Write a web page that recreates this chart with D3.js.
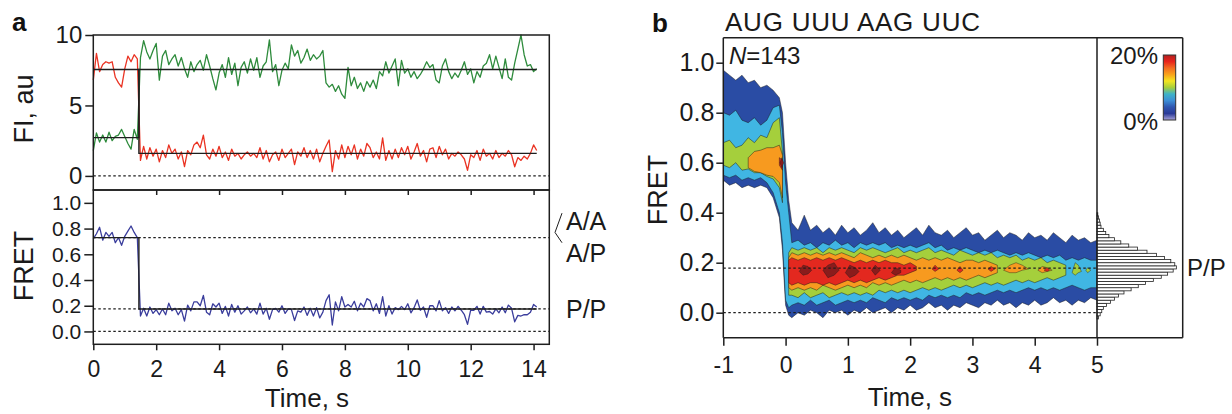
<!DOCTYPE html>
<html><head><meta charset="utf-8">
<script src="https://cdn.jsdelivr.net/npm/d3@7"></script>
<style>
html,body{margin:0;padding:0;background:#fff;}
svg{display:block;font-family:"Liberation Sans",Arial,Helvetica,sans-serif;}
</style></head><body>
<svg id="c" width="1232" height="414"></svg>
<script>
// ---------------- DATA ----------------
// panel a: single-molecule traces, sampled every 0.1 s from t = 0
const traceStart = 0, traceStep = 0.1;
const greenFI = [1.8,3.05,2.4,2.9,2.4,3.1,2.5,2.8,2.9,3.3,2.8,2.3,1.9,3.3,2.6,
8.4,9.6,8.8,8.3,8.9,9.4,6.8,8.5,8.9,7.9,
8.3,8.6,7.8,8.4,7.6,7.0,8.1,7.4,7.9,8.2,
7.5,8.6,7.8,6.9,6.1,7.3,7.9,7.0,8.4,7.2,
8.0,6.4,7.7,8.1,7.3,8.3,7.5,8.4,7.0,7.8,
8.1,9.65,7.4,7.9,6.4,7.5,8.0,7.6,9.3,8.5,
8.9,8.0,8.4,9.0,8.2,8.6,8.3,8.5,8.9,6.6,
6.3,6.5,6.0,6.4,5.8,5.5,7.7,6.4,7.0,6.2,
6.6,6.0,6.7,6.3,6.8,6.2,7.4,7.1,8.1,7.3,
7.8,8.3,6.4,8.2,7.3,7.6,7.0,7.4,6.9,7.2,
7.6,8.1,7.7,7.9,6.8,6.6,7.8,8.3,7.4,6.9,
7.3,7.0,7.5,8.1,7.2,7.6,6.6,7.4,7.0,7.8,
8.0,8.6,7.6,8.5,7.7,6.9,8.3,7.0,6.8,8.0,
9.0,10.0,8.6,7.8,7.9,7.4,7.6];
const redFI = [6.8,8.7,7.4,7.9,8.1,8.0,8.1,7.0,6.6,6.3,7.6,8.5,8.1,8.6,8.3,
1.1,2.1,1.2,2.0,1.4,1.9,1.0,1.8,1.3,2.2,
1.6,1.9,1.2,1.7,0.66,1.8,1.5,2.2,2.4,2.0,
2.9,1.5,1.2,1.9,1.4,2.1,1.3,1.7,1.1,1.9,
1.4,1.6,1.2,1.5,1.7,1.4,1.6,1.3,2.0,1.2,
1.8,1.0,1.5,1.7,1.1,1.9,1.3,1.6,1.9,0.8,
1.7,1.4,2.0,1.3,1.8,1.2,1.9,1.0,1.6,2.1,
2.55,0.3,1.8,1.2,2.2,1.3,2.1,1.5,2.2,1.2,
1.9,1.4,2.3,2.0,1.3,1.7,1.2,2.7,1.1,1.8,
1.2,1.9,1.3,2.0,1.5,2.1,1.2,1.7,2.3,1.4,
1.8,1.0,1.9,2.0,1.3,2.1,1.5,1.9,1.2,1.6,
1.4,1.7,1.5,1.2,0.4,1.5,1.3,1.8,1.1,1.9,
1.4,1.6,1.2,1.8,1.3,1.6,1.4,1.8,1.5,0.65,
1.3,1.1,1.4,1.2,1.6,2.2,1.8];
const fretTrace = [0.72,0.76,0.81,0.71,0.77,0.74,0.77,0.69,0.73,0.67,0.74,0.78,0.82,0.77,0.73,
0.12,0.18,0.12,0.19,0.14,0.17,0.13,0.175,0.13,0.22,
0.16,0.18,0.13,0.17,0.08,0.205,0.16,0.23,0.23,0.20,
0.28,0.15,0.13,0.215,0.19,0.22,0.14,0.195,0.12,0.21,
0.15,0.20,0.135,0.16,0.19,0.145,0.175,0.135,0.22,0.135,
0.18,0.095,0.17,0.18,0.15,0.20,0.14,0.175,0.17,0.085,
0.16,0.15,0.19,0.125,0.18,0.12,0.185,0.105,0.15,0.24,
0.285,0.05,0.23,0.16,0.27,0.19,0.21,0.19,0.235,0.16,
0.22,0.19,0.255,0.24,0.16,0.215,0.14,0.27,0.12,0.20,
0.135,0.185,0.17,0.195,0.17,0.215,0.145,0.185,0.245,0.165,
0.19,0.11,0.20,0.20,0.16,0.24,0.16,0.185,0.14,0.19,
0.16,0.195,0.165,0.13,0.055,0.165,0.165,0.195,0.135,0.195,
0.15,0.155,0.135,0.175,0.145,0.19,0.145,0.205,0.18,0.075,
0.125,0.12,0.13,0.13,0.15,0.21,0.19];
// idealized (HMM) step fits
const idealTime  = [0, 1.45, 1.45, 14.1];
const redIdeal   = [7.55, 7.55, 1.6, 1.6];
const greenIdeal = [2.72, 2.72, 7.55, 7.55];
const fretIdeal  = [0.73, 0.73, 0.175, 0.175];
const fiGuides   = [0];
const fretGuides = [0.73, 0.175, 0];
const fiTicks    = [0, 5, 10];
const fretTicksA = [0, 0.2, 0.4, 0.6, 0.8, 1.0];
const timeTicksA = [0, 2, 4, 6, 8, 10, 12, 14];
const stateLabels = [{text:"A/A", f:0.86}, {text:"A/P", f:0.61}, {text:"P/P", f:0.175}];

// panel b: post-synchronized contour map, band edges (FRET) per level
const contourT = [-1,-0.9,-0.8,-0.7,-0.6,-0.5,-0.4,-0.3,-0.2,-0.1,-0.05,0,0.05,
0.1,0.2,0.3,0.4,0.5,0.6,0.7,0.8,0.9,1.0,1.1,1.2,1.3,1.4,1.5,1.6,1.7,1.8,1.9,2.0,
2.1,2.2,2.3,2.4,2.5,2.6,2.7,2.8,2.9,3.0,3.1,3.2,3.3,3.4,3.5,3.6,3.7,3.8,3.9,4.0,
4.1,4.2,4.3,4.4,4.5,4.6,4.7,4.8,4.9,5.0];
const N = null;
const level1Hi = [0.97,0.95,0.93,0.95,0.92,0.93,0.90,0.91,0.89,0.86,0.80,0.60,0.45,
0.36,0.33,0.39,0.33,0.35,0.32,0.34,0.31,0.35,0.32,0.34,0.31,0.33,0.36,0.32,0.34,0.31,0.33,0.30,0.32,
0.34,0.31,0.35,0.32,0.31,0.33,0.30,0.32,0.34,0.31,0.32,0.29,0.31,0.33,0.30,0.32,0.31,0.29,0.32,0.30,
0.31,0.29,0.32,0.30,0.28,0.31,0.29,0.30,0.28,0.29];
const level1Lo = [0.53,0.51,0.52,0.50,0.51,0.50,0.51,0.50,0.46,0.38,0.25,0.03,-0.01,
-0.02,0.00,-0.01,0.01,0.00,-0.02,0.01,0.00,0.01,-0.01,0.01,0.00,0.02,0.00,0.01,0.02,0.00,0.02,0.01,0.03,
0.01,0.02,0.04,0.02,0.03,0.01,0.03,0.02,0.04,0.03,0.02,0.04,0.03,0.05,0.03,0.04,0.02,0.04,0.03,0.05,
0.03,0.04,0.06,0.04,0.05,0.03,0.05,0.04,0.06,0.05];
const level2Hi = [0.80,0.79,0.81,0.77,0.76,0.78,0.75,0.77,0.82,0.83,0.72,0.52,0.40,
0.28,0.29,0.27,0.28,0.26,0.28,0.27,0.29,0.27,0.28,0.26,0.28,0.27,0.28,0.27,0.28,0.26,0.27,0.26,0.27,
0.26,0.27,0.28,0.26,0.27,0.25,0.26,0.25,0.26,0.25,0.24,0.25,0.24,0.25,0.24,0.23,0.24,0.23,0.24,0.23,
0.22,0.23,0.22,0.23,0.21,0.22,0.21,0.22,0.21,0.21];
const level2Lo = [0.55,0.54,0.55,0.53,0.54,0.53,0.54,0.52,0.48,0.40,0.28,0.05,0.02,
0.03,0.04,0.03,0.05,0.03,0.04,0.05,0.03,0.04,0.05,0.04,0.05,0.04,0.06,0.05,0.04,0.06,0.05,0.06,0.05,
0.06,0.05,0.07,0.06,0.07,0.06,0.07,0.06,0.08,0.07,0.08,0.07,0.08,0.09,0.08,0.09,0.08,0.09,0.10,0.09,
0.10,0.09,0.10,0.09,0.10,0.11,0.10,0.09,0.10,0.10];
const level3Hi = [0.68,0.69,0.66,0.67,0.70,0.68,0.71,0.70,0.76,0.78,0.64,N,0.24,
0.26,0.25,0.26,0.25,0.26,0.24,0.26,0.25,0.26,0.25,0.24,0.26,0.25,0.26,0.25,0.24,0.25,0.26,0.24,0.25,
0.24,0.25,0.26,0.24,0.25,0.24,0.23,0.25,0.24,0.23,0.24,0.23,0.24,0.22,0.23,0.22,0.23,0.21,0.22,0.21,
0.22,0.20,0.21,0.20,0.19,N,N,N,N,N];
const level3Lo = [0.59,0.58,0.60,0.57,0.575,0.56,0.56,0.545,0.535,0.50,0.44,N,0.07,
0.07,0.06,0.08,0.06,0.07,0.08,0.06,0.07,0.08,0.07,0.08,0.07,0.08,0.07,0.09,0.08,0.09,0.08,0.09,0.08,
0.09,0.10,0.09,0.10,0.09,0.10,0.11,0.10,0.11,0.10,0.11,0.12,0.11,0.12,0.11,0.12,0.13,0.12,0.13,0.12,
0.13,0.14,0.13,0.14,0.15,N,N,N,N,N];
const level4Hi = [N,N,N,N,0.62,0.645,0.65,0.66,0.66,0.67,0.63,N,0.22,
0.24,0.23,0.24,0.23,0.24,0.23,0.24,0.23,0.24,0.23,0.22,0.24,0.23,0.22,0.23,0.22,0.23,0.22,0.23,0.22,
0.21,0.22,0.21,0.22,0.21,0.22,0.21,0.20,0.21,0.21,0.20,0.21,0.20,0.19,N,N,N,N,N,N,
N,N,N,N,N,N,N,N,N,N];
const level4Lo = [N,N,N,N,0.58,0.565,0.56,0.55,0.545,0.52,0.46,N,0.10,
0.09,0.10,0.09,0.10,0.09,0.11,0.10,0.09,0.10,0.11,0.10,0.11,0.10,0.12,0.11,0.12,0.11,0.12,0.13,0.12,
0.13,0.12,0.13,0.14,0.13,0.14,0.13,0.14,0.13,0.14,0.15,0.14,0.15,0.16,N,N,N,N,N,N,
N,N,N,N,N,N,N,N,N,N];
const level5Hi = [N,N,N,N,N,N,N,N,N,0.62,0.61,N,0.21,
0.22,0.21,0.22,0.21,0.22,0.21,0.22,0.21,0.22,0.21,0.20,0.21,0.20,0.21,0.20,0.21,0.20,0.20,0.19,0.20,
0.185,N,N,N,N,N,N,N,N,N,N,N,N,N,N,N,N,N,N,N,
N,N,N,N,N,N,N,N,N,N];
const level5Lo = [N,N,N,N,N,N,N,N,N,0.59,0.57,N,0.12,
0.11,0.12,0.11,0.12,0.12,0.11,0.12,0.11,0.12,0.13,0.12,0.13,0.12,0.13,0.14,0.13,0.14,0.15,0.15,0.16,
0.17,N,N,N,N,N,N,N,N,N,N,N,N,N,N,N,N,N,N,N,
N,N,N,N,N,N,N,N,N,N];
// isolated islands: [time, FRET low, FRET high]
const level3Islands = [
 [[4.6,0.16,0.16],[4.65,0.15,0.20],[4.7,0.16,0.19],[4.75,0.165,0.165]],
 [[4.82,0.17,0.17],[4.85,0.16,0.18],[4.9,0.17,0.17]]];
const level4Islands = [
 [[3.5,0.17,0.17],[3.6,0.16,0.19],[3.7,0.16,0.20],[3.8,0.17,0.19],[3.9,0.175,0.175]],
 [[4.05,0.17,0.17],[4.12,0.16,0.185],[4.2,0.165,0.18],[4.28,0.17,0.17]]];
const level5Islands = [
 [[2.35,0.175,0.175],[2.4,0.165,0.19],[2.46,0.175,0.175]],
 [[2.75,0.17,0.17],[2.8,0.16,0.185],[2.85,0.17,0.17]],
 [[3.25,0.175,0.175],[3.3,0.165,0.185],[3.36,0.175,0.175]],
 [[4.15,0.17,0.17],[4.2,0.165,0.18],[4.24,0.17,0.17]]];
const level6Islands = [
 [[-0.09,0.60,0.60],[-0.06,0.58,0.62],[-0.03,0.60,0.60]],
 [[0.22,0.165,0.165],[0.28,0.15,0.19],[0.36,0.155,0.185],[0.42,0.17,0.17]],
 [[0.6,0.17,0.17],[0.68,0.14,0.19],[0.78,0.15,0.20],[0.86,0.17,0.17]],
 [[0.96,0.16,0.16],[1.03,0.14,0.19],[1.12,0.15,0.18],[1.18,0.165,0.165]],
 [[1.38,0.17,0.17],[1.44,0.15,0.19],[1.52,0.17,0.17]],
 [[1.7,0.16,0.16],[1.76,0.15,0.18],[1.85,0.16,0.17]]];
const levelColors = ["#2a4ca4","#40b6e3","#a5cf3c","#f79a1f","#e3281f","#8a1c1c"];
const colorbarColors = ["#b3201f","#e8231c","#f36b21","#f9a31b","#f4e521","#a6cf3c","#3fb3c8","#3d8fd6","#2f56b0","#2a3a98","#a9a3d9"];
const colorbarLabels = ["20%","0%"];
const guidesB = [0.178, 0];
const fretTicksB = [0, 0.2, 0.4, 0.6, 0.8, 1.0];
const timeTicksB = [-1, 0, 1, 2, 3, 4, 5];
// FRET histogram of post-sync data (bin centres, relative counts)
const histBinWidth = 0.0125;
const histCenters = [-0.01875,-0.00625,0.00625,0.01875,0.03125,0.04375,0.05625,0.06875,0.08125,0.09375,
0.10625,0.11875,0.13125,0.14375,0.15625,0.16875,0.18125,0.19375,0.20625,0.21875,0.23125,0.24375,
0.25625,0.26875,0.28125,0.29375,0.30625,0.31875,0.33125,0.34375,0.35625,0.36875,0.38125,0.39375];
const histCounts = [2,4,6,8,12,17,22,27,34,43,52,61,71,81,89,96,100,98,93,85,75,63,51,40,30,22,15,11,8,5,4,3,2,1];

// ---------------- DRAW ----------------
const svg = d3.select("#c");
svg.append("rect").attr("width",1232).attr("height",414).attr("fill","#fff");
const INK = "#1e1e1e";
const plain = d => String(d);

// ---- panel a ----
const xA  = d3.scaleLinear().domain([0,14.5]).range([93.3,549.3]);
const yFI = d3.scaleLinear().domain([-1,10]).range([190,35]);
const yFR = d3.scaleLinear().domain([-0.1,1.1]).range([344.3,190]);
const tOf = i => traceStart + i*traceStep;

const gA = svg.append("g");
function dotted(g, x1, x2, y){
  g.append("line").attr("x1",x1).attr("x2",x2).attr("y1",y).attr("y2",y)
   .attr("stroke",INK).attr("stroke-width",1.2).attr("stroke-dasharray","2.5,2.5");
}
fiGuides.forEach(v => dotted(gA, xA(0), xA(14.5), yFI(v)));
fretGuides.forEach(v => dotted(gA, xA(0), xA(14.5), yFR(v)));

const lineFI = d3.line().x((d,i)=>xA(tOf(i))).y(d=>yFI(d));
const lineFR = d3.line().x((d,i)=>xA(tOf(i))).y(d=>yFR(d));
gA.append("path").attr("d",lineFI(greenFI)).attr("fill","none").attr("stroke","#2e8b3c").attr("stroke-width",1.3).attr("stroke-linejoin","round");
gA.append("path").attr("d",lineFI(redFI)).attr("fill","none").attr("stroke","#ea3323").attr("stroke-width",1.3).attr("stroke-linejoin","round");
gA.append("path").attr("d",lineFR(fretTrace)).attr("fill","none").attr("stroke","#3a3d9c").attr("stroke-width",1.3).attr("stroke-linejoin","round");

const idealFI = d3.line().x((d,i)=>xA(idealTime[i])).y(d=>yFI(d));
const idealFR = d3.line().x((d,i)=>xA(idealTime[i])).y(d=>yFR(d));
gA.append("path").attr("d",idealFI(redIdeal)).attr("fill","none").attr("stroke",INK).attr("stroke-width",1.4);
gA.append("path").attr("d",idealFI(greenIdeal)).attr("fill","none").attr("stroke",INK).attr("stroke-width",1.4);
gA.append("path").attr("d",idealFR(fretIdeal)).attr("fill","none").attr("stroke",INK).attr("stroke-width",1.4);

// frames
gA.append("rect").attr("x",xA(0)).attr("y",yFI(10)).attr("width",xA(14.5)-xA(0)).attr("height",yFI(-1)-yFI(10))
  .attr("fill","none").attr("stroke",INK).attr("stroke-width",1.5);
gA.append("rect").attr("x",xA(0)).attr("y",yFR(1.1)).attr("width",xA(14.5)-xA(0)).attr("height",yFR(-0.1)-yFR(1.1))
  .attr("fill","none").attr("stroke",INK).attr("stroke-width",1.5);

function styleAxis(g, fs){
  g.select(".domain").remove();
  g.selectAll("line").attr("stroke",INK).attr("stroke-width",1.5);
  g.selectAll("text").attr("fill","#1a1a1a").style("font-size",fs+"px")
   .style("font-family",'"Liberation Sans",Arial,sans-serif');
}
gA.append("g").attr("transform",`translate(${xA(0)},0)`)
  .call(d3.axisLeft(yFI).tickValues(fiTicks).tickSize(8).tickPadding(3).tickFormat(plain))
  .call(g=>styleAxis(g,24));
gA.append("g").attr("transform",`translate(${xA(0)},0)`)
  .call(d3.axisLeft(yFR).tickValues(fretTicksA).tickSize(9).tickPadding(3).tickFormat(d=>d.toFixed(1)))
  .call(g=>styleAxis(g,21));
gA.append("g").attr("transform",`translate(0,${yFR(-0.1)})`)
  .call(d3.axisBottom(xA).tickValues(timeTicksA).tickSize(6).tickPadding(10).tickFormat(plain))
  .call(g=>styleAxis(g,23));
gA.append("g").attr("transform",`translate(0,${yFR(1.1)})`)
  .call(d3.axisTop(xA).tickValues(timeTicksA.slice(1)).tickSize(-5).tickFormat(""))
  .call(g=>styleAxis(g,10));

gA.append("text").attr("transform","translate(33,109) rotate(-90)").attr("text-anchor","middle")
  .style("font-size","27px").attr("fill","#1a1a1a").text("FI, au");
gA.append("text").attr("transform","translate(33,266) rotate(-90)").attr("text-anchor","middle")
  .style("font-size","27px").attr("fill","#1a1a1a").text("FRET");
gA.append("text").attr("x",307).attr("y",407).attr("text-anchor","middle")
  .style("font-size","26px").attr("fill","#1a1a1a").text("Time, s");
svg.append("text").attr("x",12).attr("y",31).style("font-size","26px").style("font-weight","bold").attr("fill","#111").text("a");

// state labels
stateLabels.forEach(s=>{
  gA.append("text").attr("x",566).attr("y",yFR(s.f)+9).style("font-size","25px").attr("fill","#1a1a1a").text(s.text);
});
gA.append("path").attr("d",d3.line()([[562,yFR(0.92)],[555,yFR(0.77)],[562,yFR(0.69)]]))
  .attr("fill","none").attr("stroke",INK).attr("stroke-width",1);

// ---- panel b ----
const xB = d3.scaleLinear().domain([-1,5]).range([723.3,1097]);
const yB = d3.scaleLinear().domain([-0.1,1.1]).range([337.7,37.7]);
const xH = d3.scaleLinear().domain([0,108]).range([1097,1182.7]);

svg.append("defs").append("clipPath").attr("id","plotB").append("rect")
  .attr("x",xB(-1)).attr("y",yB(1.1)).attr("width",xB(5)-xB(-1)).attr("height",yB(-0.1)-yB(1.1));
const gB = svg.append("g");
const gC = gB.append("g").attr("clip-path","url(#plotB)");
const bandArea = d3.area().defined(d=>d[1]!=null && d[2]!=null)
  .x(d=>xB(d[0])).y0(d=>yB(d[1])).y1(d=>yB(d[2]));
function band(hi, lo, color){
  const pts = contourT.map((t,i)=>[t, lo[i], hi[i]]);
  gC.append("path").attr("d",bandArea(pts)).attr("fill",color)
    .attr("stroke","#1b1b1b").attr("stroke-width",0.6).attr("stroke-opacity",0.8);
}
function islands(list, color){
  list.forEach(pts => gC.append("path").attr("d",bandArea(pts)).attr("fill",color)
    .attr("stroke","#1b1b1b").attr("stroke-width",0.5).attr("stroke-opacity",0.8));
}
band(level1Hi, level1Lo, levelColors[0]);
band(level2Hi, level2Lo, levelColors[1]);
band(level3Hi, level3Lo, levelColors[2]); islands(level3Islands, levelColors[2]);
band(level4Hi, level4Lo, levelColors[3]); islands(level4Islands, levelColors[3]);
band(level5Hi, level5Lo, levelColors[4]); islands(level5Islands, levelColors[4]);
islands(level6Islands, levelColors[5]);

guidesB.forEach(v => dotted(gB, xB(-1), xB(5), yB(v)));

// histogram
histCenters.forEach((c,i)=>{
  gB.append("rect").attr("x",xH(0)).attr("y",yB(c+histBinWidth/2))
    .attr("width",xH(histCounts[i])-xH(0)).attr("height",yB(c-histBinWidth/2)-yB(c+histBinWidth/2))
    .attr("fill","#fff").attr("stroke","#222").attr("stroke-width",0.8);
});

// frame lines
const fr = [[xB(-1),yB(1.1),xH(108),yB(1.1)],[xB(-1),yB(-0.1),xH(108),yB(-0.1)],
            [xB(5),yB(1.1),xB(5),yB(-0.1)],[xH(108),yB(1.1),xH(108),yB(-0.1)],[xB(-1),yB(1.1),xB(-1),yB(-0.1)]];
fr.forEach(l=>gB.append("line").attr("x1",l[0]).attr("y1",l[1]).attr("x2",l[2]).attr("y2",l[3])
  .attr("stroke",INK).attr("stroke-width",1.5));

gB.append("g").attr("transform",`translate(${xB(-1)},0)`)
  .call(d3.axisLeft(yB).tickValues(fretTicksB).tickSize(7).tickPadding(2).tickFormat(d=>d.toFixed(1)))
  .call(g=>styleAxis(g,25));
gB.append("g").attr("transform",`translate(0,${yB(-0.1)})`)
  .call(d3.axisBottom(xB).tickValues(timeTicksB).tickSize(8).tickPadding(11).tickFormat(plain))
  .call(g=>styleAxis(g,23));

gB.append("text").attr("transform","translate(667,190) rotate(-90)").attr("text-anchor","middle")
  .style("font-size","27px").attr("fill","#1a1a1a").text("FRET");
gB.append("text").attr("x",910).attr("y",406).attr("text-anchor","middle")
  .style("font-size","26px").attr("fill","#1a1a1a").text("Time, s");
gB.append("text").attr("x",725).attr("y",31).style("font-size","26px").attr("fill","#1a1a1a")
  .attr("textLength",255).attr("lengthAdjust","spacing").text("AUG UUU AAG UUC");
const nt = gB.append("text").attr("x",729).attr("y",64).style("font-size","24px").attr("fill","#1a1a1a");
nt.append("tspan").style("font-style","italic").text("N");
nt.append("tspan").text("=143");
gB.append("text").attr("x",1187).attr("y",276).style("font-size","24px").attr("fill","#1a1a1a").text("P/P");
svg.append("text").attr("x",652).attr("y",32).style("font-size","26px").style("font-weight","bold").attr("fill","#111").text("b");

// colorbar
const grad = svg.select("defs").append("linearGradient").attr("id","cbar").attr("x1",0).attr("y1",0).attr("x2",0).attr("y2",1);
colorbarColors.forEach((c,i)=>grad.append("stop").attr("offset",i/(colorbarColors.length-1)).attr("stop-color",c));
gB.append("rect").attr("x",1163.3).attr("y",55).attr("width",12.4).attr("height",65)
  .attr("fill","url(#cbar)").attr("stroke","#333").attr("stroke-width",1);
gB.append("text").attr("x",1158).attr("y",64).attr("text-anchor","end").style("font-size","24px").attr("fill","#1a1a1a").text(colorbarLabels[0]);
gB.append("text").attr("x",1158).attr("y",130).attr("text-anchor","end").style("font-size","24px").attr("fill","#1a1a1a").text(colorbarLabels[1]);
</script></body></html>
